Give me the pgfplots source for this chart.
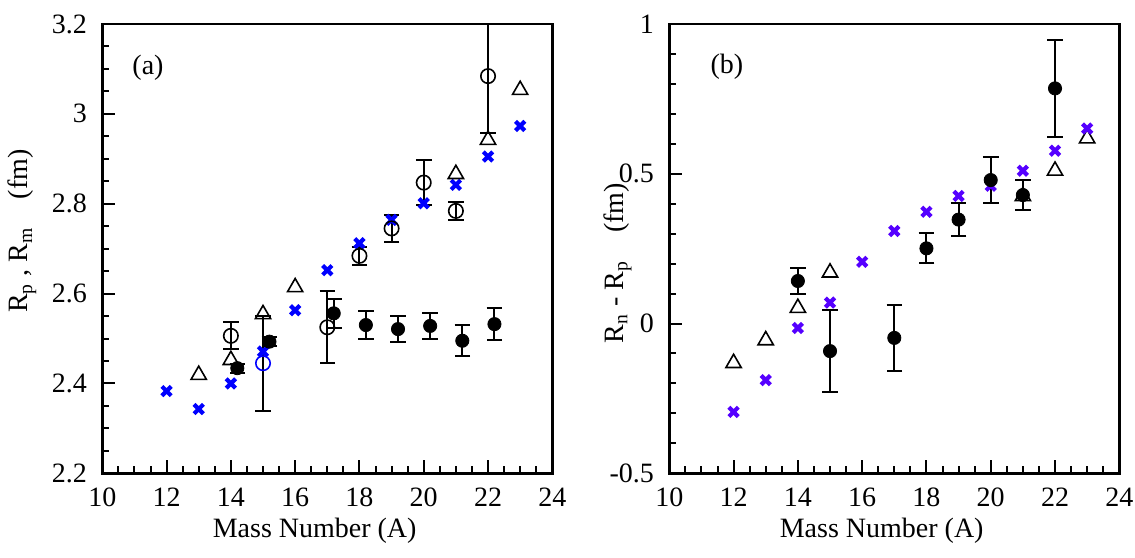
\documentclass[border=0pt]{standalone}
\usepackage{fontspec}
\setmainfont{Liberation Serif}
\usepackage{pgfplots}
\pgfplotsset{compat=1.18}
\definecolor{xblue}{RGB}{0,0,255}
\definecolor{xviolet}{RGB}{85,0,255}

\pgfplotstableread{
x y
12 2.383
13 2.343
14 2.400
15 2.471
16 2.563
17 2.652
18 2.712
19 2.764
20 2.801
21 2.842
22 2.905
23 2.973
}\crossA

\pgfplotstableread{
x y
13 2.419
14 2.452
15 2.554
16 2.614
21 2.866
22 2.942
23 3.053
}\triA

\pgfplotstableread{
x y e
14 2.506 0.030
17 2.525 0.080
18 2.684 0.020
19 2.745 0.030
20 2.847 0.050
21 2.784 0.020
22 3.084 0.126
}\openA

\pgfplotstableread{
x y e
15 2.445 0.106
}\blueopenA

\pgfplotstableread{
x y e
14.2 2.434 0.010
15.2 2.493 0.010
17.2 2.556 0.032
18.2 2.530 0.032
19.2 2.521 0.028
20.2 2.528 0.028
21.2 2.495 0.034
22.2 2.532 0.036
}\fillA

\pgfplotstableread{
x y
12 -0.295
13 -0.189
14 -0.015
15 0.070
16 0.206
17 0.309
18 0.373
19 0.426
20 0.460
21 0.510
22 0.577
23 0.651
}\crossB

\pgfplotstableread{
x y
12 -0.132
13 -0.056
14 0.052
15 0.170
21 0.425
22 0.510
23 0.618
}\triB

\pgfplotstableread{
x y e
14 0.142 0.045
15 -0.092 0.136
17 -0.048 0.110
18 0.251 0.050
19 0.347 0.055
20 0.479 0.076
21 0.429 0.050
22 0.785 0.163
}\fillB

\pgfplotsset{
  myaxis/.style={
    scale only axis, width=225pt, height=224.65pt,
    xmin=10, xmax=24, xtick={10,12,...,24}, minor x tick num=3,
    xtick pos=bottom, ytick pos=left, tick align=inside,
    major tick length=6.5pt, minor tick length=3.5pt,
    axis line style={line width=1.3pt},
    tick style={line width=1pt, black},
    tick label style={font=\fontsize{14}{16}\selectfont, inner sep=0pt},
    xticklabel style={anchor=base, yshift=-16.4pt},
    yticklabel style={anchor=east, xshift=-7.5pt},
    /pgf/number format/assume math mode=true,
    label style={font=\fontsize{14}{16}\selectfont},
    xlabel={Mass Number (A)},
    xlabel style={at={(axis description cs:0.472,-0.144)}, anchor=base},
  },
  crossstyle/.style={only marks, mark=x, mark size=3.3pt, line width=2.1pt},
  tristyle/.style={only marks, mark=triangle, mark size=4.4pt, black, line width=0.8pt},
  errstyle/.style={error bars/.cd, y dir=both, y explicit,
     error bar style={line width=1pt, black},
     error mark options={rotate=90, mark size=3.9pt, line width=1pt, black}},
}

\begin{document}
\begin{tikzpicture}
\path (0,0) rectangle (567.5pt,278.5pt);

\begin{axis}[myaxis, at={(51.15pt,41.85pt)}, anchor=south west,
  ymin=2.2, ymax=3.2, ytick={2.2,2.4,...,3.2}, yticklabels={2.2,2.4,2.6,2.8,3,3.2},
  minor y tick num=3,
  ylabel={R\textsubscript{p} , R\textsubscript{m}\quad(fm)},
  ylabel style={at={(axis description cs:-0.178,0.539)}, anchor=center},
]
\addplot[crossstyle, xblue] table[x=x,y=y]{\crossA};
\addplot[tristyle] table[x=x,y=y]{\triA};
\addplot[only marks, mark=o, mark size=3.6pt, black, line width=0.8pt, errstyle] table[x=x,y=y,y error=e]{\openA};
\addplot[only marks, mark=o, mark size=3.6pt, xblue, line width=0.8pt, errstyle] table[x=x,y=y,y error=e]{\blueopenA};
\addplot[only marks, mark=*, mark size=3.3pt, black, errstyle] table[x=x,y=y,y error=e]{\fillA};
\node[font=\fontsize{14}{16}\selectfont] at (axis description cs:0.1016,0.902) {(a)};
\end{axis}

\begin{axis}[myaxis, at={(334.65pt,41.85pt)}, anchor=south west,
  ymin=-0.5, ymax=1, ytick={-0.5,0,0.5,1}, yticklabels={-0.5,0,0.5,1},
  minor y tick num=4,
  ylabel={R\textsubscript{n} - R\textsubscript{p}\quad(fm)},
  ylabel style={at={(axis description cs:-0.115,0.468)}, anchor=center},
]
\addplot[tristyle] table[x=x,y=y]{\triB};
\addplot[crossstyle, xviolet] table[x=x,y=y]{\crossB};
\addplot[only marks, mark=*, mark size=3.3pt, black, errstyle] table[x=x,y=y,y error=e]{\fillB};
\node[font=\fontsize{14}{16}\selectfont] at (axis description cs:0.128,0.904) {(b)};
\end{axis}
\end{tikzpicture}
\end{document}
